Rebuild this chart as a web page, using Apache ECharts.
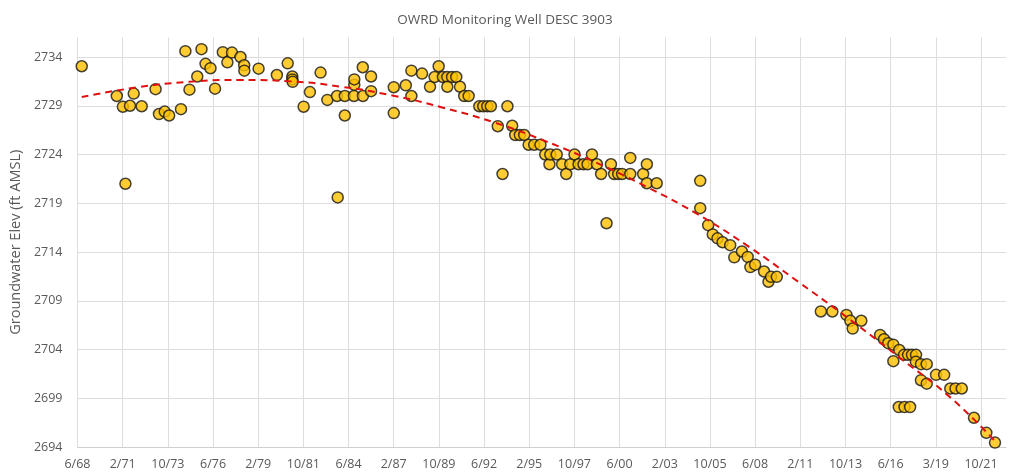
<!DOCTYPE html>
<html><head><meta charset="utf-8">
<script src="https://cdn.jsdelivr.net/npm/echarts@6/dist/echarts.min.js"></script>
<style>html,body{margin:0;padding:0;background:#fff}#c{width:1010px;height:474px}</style>
</head><body><div id="c"></div>
<script>
const chartTitle = 'OWRD Monitoring Well DESC 3903';
const yAxisTitle = 'Groundwater Elev (ft AMSL)';
const xTickLabels = ['6/68','2/71','10/73','6/76','2/79','10/81','6/84','2/87','10/89','6/92','2/95','10/97','6/00','2/03','10/05','6/08','2/11','10/13','6/16','3/19','10/21'];
const X_MIN = 1968.42, X_STEP = 2.6667, X_MAX = 2023.23;
const Y_MIN = 2694, Y_STEP = 5, Y_MAX = 2736;

const obsYear = [1968.67,1970.74,1971.10,1971.25,1971.52,1971.74,1972.21,1973.03,1973.23,1973.57,1973.83,1974.53,1974.79,1975.03,1975.49,1975.74,1975.98,1976.27,1976.54,1977.00,1977.27,1977.54,1978.04,1978.26,1978.27,1979.11,1980.19,1980.83,1981.10,1981.10,1981.12,1981.77,1982.14,1982.77,1983.17,1983.74,1983.78,1984.20,1984.20,1984.74,1984.76,1984.76,1985.26,1985.27,1985.75,1985.75,1987.09,1987.09,1987.80,1988.13,1988.13,1988.76,1989.23,1989.50,1989.74,1989.99,1990.25,1990.25,1990.53,1990.78,1991.00,1991.25,1991.51,1992.14,1992.37,1992.61,1992.82,1993.23,1993.51,1993.80,1994.08,1994.26,1994.53,1994.79,1995.05,1995.38,1995.75,1996.03,1996.28,1996.33,1996.71,1997.03,1997.27,1997.51,1997.76,1998.00,1998.29,1998.53,1998.79,1999.08,1999.33,1999.65,1999.91,2000.10,2000.34,2000.57,2001.05,2001.05,2001.81,2002.03,2002.03,2002.61,2005.18,2005.18,2005.65,2005.92,2006.20,2006.50,2006.95,2007.19,2007.64,2007.98,2008.14,2008.42,2008.95,2009.21,2009.36,2009.70,2012.30,2012.98,2013.81,2014.04,2014.18,2014.69,2015.80,2016.03,2016.28,2016.58,2016.58,2016.93,2016.90,2017.24,2017.57,2017.21,2017.45,2017.68,2017.92,2017.91,2018.21,2018.55,2018.21,2018.55,2019.10,2019.58,2019.94,2020.25,2020.62,2021.34,2022.07,2022.58];
const obsElev = [2733.05,2730.0,2728.9,2721.0,2729.0,2730.25,2728.95,2730.7,2728.15,2728.4,2728.0,2728.65,2734.6,2730.65,2732.0,2734.8,2733.3,2732.85,2730.75,2734.5,2733.45,2734.45,2734.0,2733.15,2732.6,2732.8,2732.15,2733.35,2732.0,2731.7,2731.45,2728.9,2730.4,2732.4,2729.6,2730.0,2719.6,2730.0,2728.0,2730.0,2731.15,2731.7,2732.95,2730.0,2732.0,2730.5,2730.9,2728.25,2731.1,2732.6,2730.0,2732.3,2730.95,2731.95,2733.05,2731.95,2731.95,2730.95,2731.95,2731.95,2730.95,2730.0,2730.0,2728.95,2728.95,2728.95,2728.95,2726.9,2722.0,2728.95,2726.95,2726.0,2726.0,2726.0,2725.0,2725.0,2725.0,2724.0,2723.0,2724.0,2724.0,2723.0,2722.0,2723.0,2724.0,2723.0,2723.0,2723.0,2724.0,2723.0,2722.0,2716.95,2723.0,2722.0,2722.0,2722.0,2723.65,2722.0,2722.0,2723.0,2721.05,2721.05,2721.3,2718.5,2716.75,2715.8,2715.4,2715.0,2714.7,2713.45,2714.05,2713.5,2712.45,2712.7,2712.0,2710.95,2711.45,2711.45,2707.9,2707.9,2707.55,2706.95,2706.15,2706.95,2705.5,2705.05,2704.65,2704.5,2702.8,2703.95,2698.1,2698.1,2698.1,2703.45,2703.45,2703.45,2703.45,2702.75,2702.5,2702.5,2700.85,2700.5,2701.4,2701.4,2700.0,2700.0,2700.0,2697.0,2695.45,2694.45];

const trendYear = [1968.67,1972,1975,1978,1981,1984,1987,1990,1993,1996,1999,2002,2005,2008,2011,2014,2017,2020,2022.58];
const trendElev = [2729.9,2730.9,2731.45,2731.65,2731.5,2730.95,2730.05,2728.8,2727.3,2725.4,2723.2,2720.7,2717.9,2714.6,2710.9,2707.1,2703.1,2699.0,2694.6];

const obsData = obsYear.map((x, i) => [x, obsElev[i]]);
const trendData = trendYear.map((x, i) => [x, trendElev[i]]);

const font = '"Open Sans", sans-serif';
const chart = echarts.init(document.getElementById('c'), null, {renderer: 'canvas'});
chart.setOption({
  animation: false,
  backgroundColor: '#ffffff',
  title: {
    text: chartTitle, left: 'center', top: 8,
    textStyle: {fontFamily: font, fontSize: 13.5, fontWeight: 'normal', color: '#595959'}
  },
  grid: {left: 77, right: 4, top: 37.5, bottom: 27},
  xAxis: {
    type: 'value', min: X_MIN, max: X_MAX, interval: X_STEP,
    axisLine: {show: true, lineStyle: {color: '#d0d0d0', width: 1}},
    axisTick: {show: false},
    splitLine: {show: true, showMaxLine: false, lineStyle: {color: '#dddddd', width: 1}},
    axisLabel: {
      showMaxLabel: false, margin: 11, color: '#595959', fontFamily: font, fontSize: 12.5,
      formatter: v => { const k = Math.round((v - X_MIN) / X_STEP); return Math.abs(v - (X_MIN + k * X_STEP)) < 0.01 ? (xTickLabels[k] || '') : ''; }
    }
  },
  yAxis: {
    type: 'value', min: Y_MIN, max: Y_MAX, interval: Y_STEP,
    name: yAxisTitle, nameLocation: 'middle', nameRotate: 90, nameGap: 49,
    nameTextStyle: {fontFamily: font, fontSize: 14.5, color: '#595959'},
    axisLine: {show: false},
    axisTick: {show: false},
    splitLine: {show: true, showMaxLine: false, lineStyle: {color: '#dddddd', width: 1}},
    axisLabel: {showMaxLabel: false, margin: 15, color: '#595959', fontFamily: font, fontSize: 12.5,
      formatter: v => String(Math.round(v))}
  },
  series: [
    {
      type: 'scatter', data: obsData, symbol: 'circle', symbolSize: 11, z: 2,
      itemStyle: {color: '#FFC000', borderColor: '#151515', borderWidth: 1.5}
    },
    {
      type: 'line', data: trendData, smooth: true, showSymbol: false, symbol: 'none', z: 3,
      lineStyle: {color: '#e01010', width: 2, type: [7, 5]}
    }
  ]
});
</script>
</body></html>
